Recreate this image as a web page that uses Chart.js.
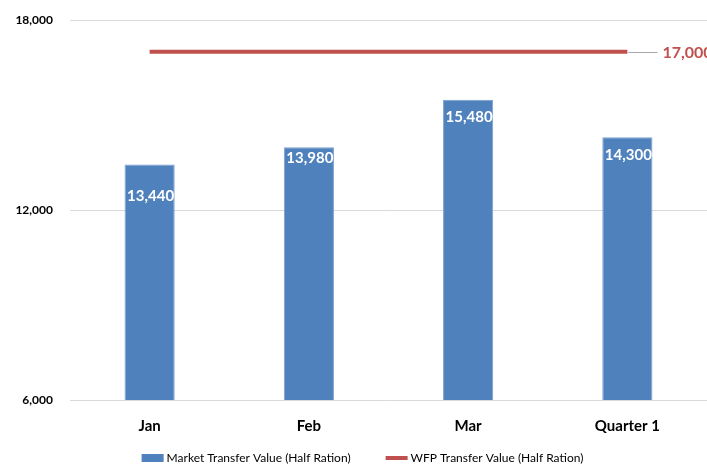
<!DOCTYPE html>
<html>
<head>
<meta charset="utf-8">
<script src="https://cdn.jsdelivr.net/npm/chart.js@4/dist/chart.umd.min.js"></script>
<style>
  html, body { margin: 0; padding: 0; background: #fff; }
  #wrap { width: 707px; height: 466px; }
</style>
</head>
<body>
<div id="wrap"><canvas id="transferChart" width="707" height="466"></canvas></div>
<script>
// === Data ===
const months = ['Jan', 'Feb', 'Mar', 'Quarter 1'];
const marketValues = [13440, 13980, 15480, 14300];
const wfpValues = [17000, 17000, 17000, 17000];
const yTicks = [6000, 12000, 18000];

const FONT = "Lato, 'Open Sans', sans-serif";
const BLUE = '#4F81BD';
const RED = '#C0504D';

// value labels inside the bars (drop = px below bar top)
const barLabels = {
  id: 'barLabels',
  afterDatasetsDraw(chart, args, opts) {
    const ctx = chart.ctx;
    const meta = chart.getDatasetMeta(0);
    ctx.save();
    ctx.font = 'bold 15px ' + FONT;
    ctx.fillStyle = '#fff';
    ctx.textAlign = 'center';
    ctx.textBaseline = 'middle';
    meta.data.forEach((bar, i) => {
      const drop = (opts.drop && opts.drop[i]) || 16;
      ctx.fillText(marketValues[i].toLocaleString('en-US'), bar.x + 1, bar.y + drop);
    });
    ctx.restore();
  }
};

// leader line + value for the WFP line at the right end
const lineEndLabel = {
  id: 'lineEndLabel',
  afterDatasetsDraw(chart) {
    const ctx = chart.ctx;
    const pts = chart.getDatasetMeta(1).data;
    const last = pts[pts.length - 1];
    ctx.save();
    ctx.strokeStyle = '#a6a6a6';
    ctx.lineWidth = 1;
    ctx.beginPath();
    ctx.moveTo(last.x + 1, Math.round(last.y) + 0.5);
    ctx.lineTo(last.x + 30, Math.round(last.y) + 0.5);
    ctx.stroke();
    ctx.font = 'bold 16px ' + FONT;
    ctx.fillStyle = RED;
    ctx.textAlign = 'left';
    ctx.textBaseline = 'middle';
    ctx.fillText(wfpValues[wfpValues.length - 1].toLocaleString('en-US'), last.x + 35, last.y + 1);
    ctx.restore();
  }
};

// legend row along the bottom
const bottomLegend = {
  id: 'bottomLegend',
  afterDraw(chart, args, opts) {
    const ctx = chart.ctx;
    const sets = chart.data.datasets;
    ctx.save();
    ctx.font = '12px ' + FONT;
    ctx.textBaseline = 'middle';
    ctx.textAlign = 'left';
    const swatch = 22, gap = 3, itemGap = 35;
    const widths = sets.map(ds => ctx.measureText(ds.label).width);
    const total = widths.reduce((a, w) => a + swatch + gap + w, 0) + itemGap * (sets.length - 1);
    let x = (chart.width - total) / 2 + opts.shift;
    const y = opts.y;
    sets.forEach((ds, i) => {
      if (ds.type === 'line') {
        ctx.strokeStyle = ds.borderColor;
        ctx.lineWidth = 4;
        ctx.beginPath();
        ctx.moveTo(x, y);
        ctx.lineTo(x + swatch, y);
        ctx.stroke();
      } else {
        ctx.fillStyle = ds.backgroundColor;
        ctx.fillRect(x, y - 4, swatch, 8);
      }
      x += swatch + gap;
      ctx.fillStyle = '#000';
      ctx.fillText(ds.label, x, y);
      x += widths[i] + itemGap;
    });
    ctx.restore();
  }
};

new Chart(document.getElementById('transferChart'), {
  data: {
    labels: months,
    datasets: [
      {
        type: 'bar',
        label: 'Market Transfer Value (Half Ration)',
        data: marketValues,
        backgroundColor: BLUE,
        borderColor: '#7a9fd0',
        borderWidth: 1,
        barPercentage: 0.315,
        categoryPercentage: 1,
        order: 2
      },
      {
        type: 'line',
        label: 'WFP Transfer Value (Half Ration)',
        data: wfpValues,
        borderColor: RED,
        backgroundColor: RED,
        borderWidth: 4,
        pointRadius: 0,
        order: 1
      }
    ]
  },
  options: {
    responsive: false,
    animation: false,
    layout: { padding: { top: 20, right: 0, left: 0, bottom: 26 } },
    scales: {
      x: {
        afterFit: axis => { axis.height = 40; },
        grid: { display: false },
        border: { display: false },
        ticks: { color: '#000', font: { family: FONT, size: 15, weight: 'bold' }, padding: 9 }
      },
      y: {
        min: 6000,
        max: 18000,
        afterBuildTicks: axis => { axis.ticks = yTicks.map(v => ({ value: v })); },
        afterFit: axis => { axis.width = 70; },
        // invisible tick marks keep the labels off the plot without padding the top
        grid: { color: '#d9d9d9', drawTicks: true, tickLength: 12, tickColor: 'rgba(0,0,0,0)' },
        border: { display: false },
        ticks: {
          color: '#000',
          padding: 5,
          font: { family: FONT, size: 12, weight: 'bold' },
          callback: v => v.toLocaleString('en-US')
        }
      }
    },
    plugins: {
      legend: { display: false },
      tooltip: { enabled: false },
      barLabels: { drop: [32, 11, 17, 18] },
      bottomLegend: { y: 458, shift: 9 }
    }
  },
  plugins: [barLabels, lineEndLabel, bottomLegend]
});
</script>
</body>
</html>
